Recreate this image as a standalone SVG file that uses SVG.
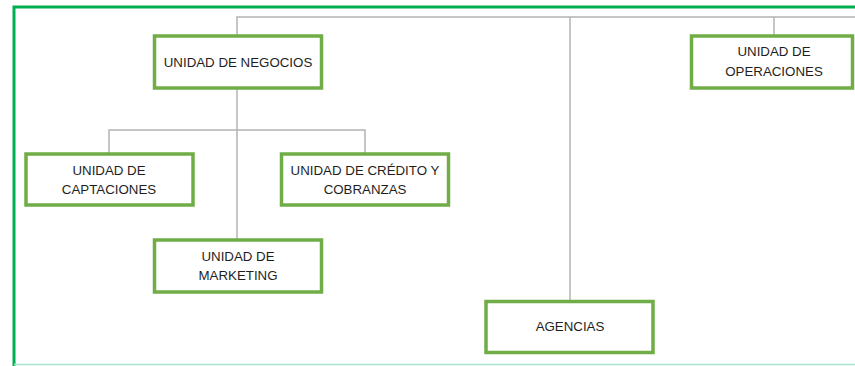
<svg xmlns="http://www.w3.org/2000/svg" width="855" height="366" viewBox="0 0 855 366">
<style>
.node rect{fill:#ffffff;stroke:#70ad47;stroke-width:3.5}
.node text{font-family:"Liberation Sans",Arial,sans-serif;font-size:13.3px;fill:#1e1e1e;text-anchor:middle}
.conn{fill:none;stroke:#b3b3b3;stroke-width:1.5}
</style>
<rect x="0" y="0" width="855" height="366" fill="#ffffff"/>
<g id="frame">
<path d="M14 366 V7 H860" fill="none" stroke="#00b050" stroke-width="3"/>
<line x1="14" y1="364.5" x2="855" y2="364.5" stroke="#a8e2cc" stroke-width="1.5"/>
</g>
<g id="connectors">
<path class="conn" d="M237 36 V17 H855"/>
<path class="conn" d="M570 17 V301"/>
<path class="conn" d="M774 17 V36"/>
<path class="conn" d="M237 88 V239"/>
<path class="conn" d="M109 153 V130 H365 V153"/>
</g>
<g id="negocios" class="node">
<rect x="154.5" y="36" width="167" height="52"/>
<text x="238" y="66.5">UNIDAD DE NEGOCIOS</text>
</g>
<g id="captaciones" class="node">
<rect x="26" y="154" width="167" height="51"/>
<text x="109" y="175">UNIDAD DE</text>
<text x="109" y="193.5">CAPTACIONES</text>
</g>
<g id="credito" class="node">
<rect x="281.5" y="154" width="167" height="51"/>
<text x="365" y="175">UNIDAD DE CRÉDITO Y</text>
<text x="365" y="193.5">COBRANZAS</text>
</g>
<g id="marketing" class="node">
<rect x="154.5" y="240" width="167" height="52"/>
<text x="238" y="261">UNIDAD DE</text>
<text x="238" y="280">MARKETING</text>
</g>
<g id="agencias" class="node">
<rect x="486" y="301.5" width="167" height="51"/>
<text x="570" y="331">AGENCIAS</text>
</g>
<g id="operaciones" class="node">
<rect x="691.5" y="36" width="161" height="52"/>
<text x="774" y="56">UNIDAD DE</text>
<text x="774" y="76">OPERACIONES</text>
</g>
</svg>
